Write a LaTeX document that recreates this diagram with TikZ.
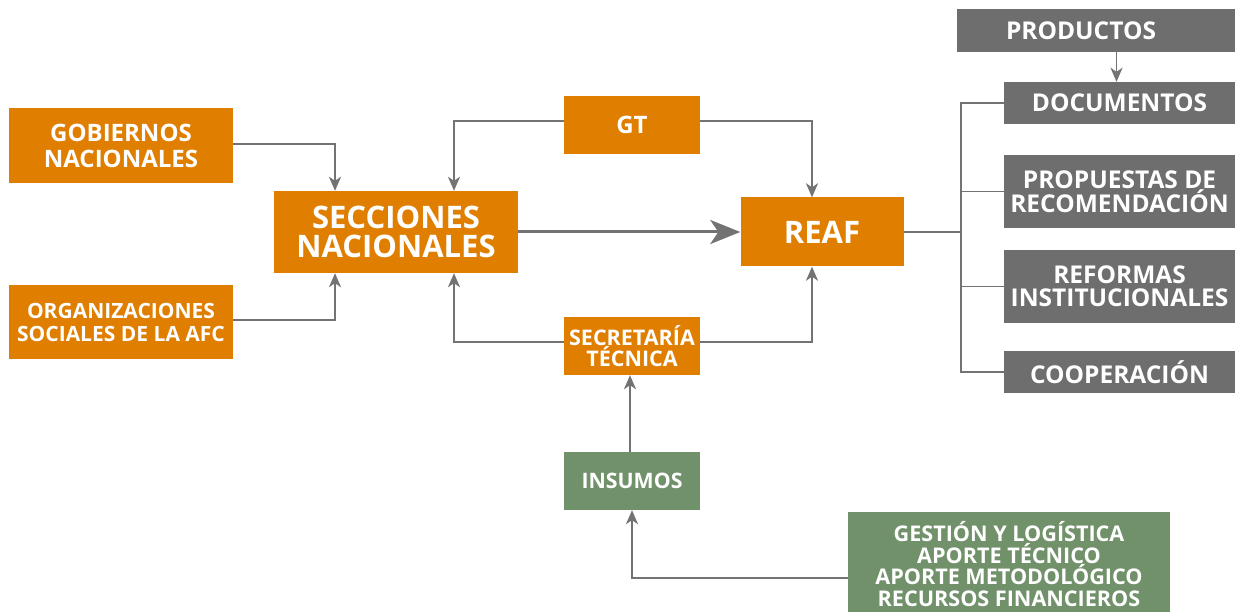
\documentclass[tikz,border=0pt]{standalone}
\usepackage{fontspec}
\setmainfont{Open Sans}
\usetikzlibrary{arrows.meta}

\definecolor{reafOrange}{HTML}{E07E00}
\definecolor{reafGray}{HTML}{6E6E6E}
\definecolor{reafGreen}{HTML}{71916A}
\definecolor{reafLine}{HTML}{737373}

\begin{document}
\begin{tikzpicture}[x=1pt, y=-1pt,
    box/.style={fill=#1, text=white, align=center, inner sep=0pt},
    conn/.style={draw=reafLine, line width=1.8pt},
    arr/.style={conn, -{Stealth[length=14pt, width=12pt, inset=4pt]}}]

    \useasboundingbox (0,0) rectangle (1235,612);

    % Draw the left boxes and the two national nodes
    \node[box=reafOrange, minimum width=224pt, minimum height=75pt, font=\bfseries\fontsize{24}{26}\selectfont]
        (gob) at (121,146) {GOBIERNOS\\NACIONALES};
    \node[box=reafOrange, minimum width=224pt, minimum height=74pt, font=\bfseries\fontsize{21}{23}\selectfont]
        (org) at (121,322) {ORGANIZACIONES\\SOCIALES DE LA AFC};
    \node[box=reafOrange, minimum width=244pt, minimum height=82pt, font=\bfseries\fontsize{31}{29}\selectfont]
        (sec) at (396,232) {SECCIONES\\NACIONALES};
    \node[box=reafOrange, minimum width=163pt, minimum height=69pt, font=\bfseries\fontsize{31}{29}\selectfont]
        (reaf) at (822,232) {REAF};

    % Draw the middle boxes
    \node[box=reafOrange, minimum width=136pt, minimum height=58pt, font=\bfseries\fontsize{24}{26}\selectfont]
        (gt) at (632,125) {GT};
    \node[box=reafOrange, minimum width=136pt, minimum height=58pt, font=\bfseries\fontsize{21.5}{21}\selectfont]
        (st) at (632,346) {SECRETARÍA\\TÉCNICA};
    \node[box=reafGreen, minimum width=136pt, minimum height=58pt, font=\bfseries\fontsize{21.3}{22}\selectfont]
        (ins) at (632,481) {INSUMOS};
    \node[box=reafGreen, minimum width=322pt, minimum height=104pt, font=\bfseries\fontsize{21.6}{21.4}\selectfont]
        (ges) at (1009,564) {GESTIÓN Y LOGÍSTICA\\APORTE TÉCNICO\\APORTE METODOLÓGICO\\RECURSOS FINANCIEROS};

    % Draw the product boxes on the right
    \node[box=reafGray, minimum width=278pt, minimum height=43pt, font=\bfseries\fontsize{24.5}{25}\selectfont]
        (prod) at (1096,30.5) {PRODUCTOS\hspace*{30pt}};
    \node[box=reafGray, minimum width=231pt, minimum height=42pt, font=\bfseries\fontsize{24.5}{25}\selectfont]
        (doc) at (1119.5,103) {DOCUMENTOS};
    \node[box=reafGray, minimum width=231pt, minimum height=73pt, font=\bfseries\fontsize{24.5}{23}\selectfont]
        (prop) at (1119.5,191.5) {PROPUESTAS DE\\RECOMENDACIÓN};
    \node[box=reafGray, minimum width=231pt, minimum height=73pt, font=\bfseries\fontsize{24.5}{23}\selectfont]
        (ref) at (1119.5,286.5) {REFORMAS\\INSTITUCIONALES};
    \node[box=reafGray, minimum width=231pt, minimum height=42pt, font=\bfseries\fontsize{24.5}{25}\selectfont]
        (coop) at (1119.5,372) {COOPERACIÓN};

    % Arrows into the national sections
    \draw[arr] ([yshift=2pt]gob.east) -| ([xshift=-61pt]sec.north);
    \draw[arr] ([yshift=2pt]org.east) -| ([xshift=-61pt]sec.south);
    \draw[arr] ([yshift=4pt]gt.west) -| ([xshift=58pt]sec.north);
    \draw[arr] ([yshift=4pt]st.west) -| ([xshift=58pt]sec.south);

    % Arrows into REAF
    \draw[arr] ([yshift=4pt]gt.east) -| ([xshift=-10pt]reaf.north);
    \draw[arr] ([yshift=4pt]st.east) -| ([xshift=-10pt]reaf.south);
    \draw[conn, line width=3pt, -{Stealth[length=30pt, width=24pt, inset=8pt]}] (sec.east) -- (reaf.west);

    % Inputs
    \draw[arr] ([xshift=-2pt]ins.north) -- ([xshift=-2pt]st.south);
    \draw[arr] ([yshift=-14pt]ges.west) -| (ins.south);

    % Products tree
    \coordinate (trunk) at (961,232);
    \draw[conn] (reaf.east) -- (trunk);
    \foreach \n in {doc,prop,ref,coop}
        \draw[conn] (\n.west) -| (trunk);
    \draw[arr] ([xshift=-3pt]doc.north |- prod.south) -- ([xshift=-3pt]doc.north);

\end{tikzpicture}
\end{document}
